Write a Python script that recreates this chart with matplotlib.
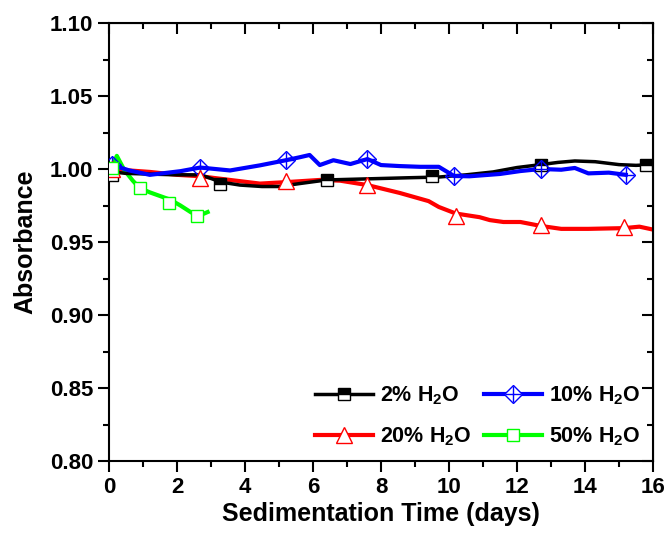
"""
plot.py - Absorbance vs sedimentation time for different water contents.
Output: out.png
"""

import matplotlib
matplotlib.use("Agg")
import matplotlib.pyplot as plt
from matplotlib.ticker import MultipleLocator

plt.rcParams["font.family"] = ["Liberation Sans", "DejaVu Sans"]
plt.rcParams["font.weight"] = "bold"
plt.rcParams["mathtext.fontset"] = "custom"
plt.rcParams["mathtext.rm"] = "Liberation Sans:bold"
plt.rcParams["mathtext.it"] = "Liberation Sans:bold"
plt.rcParams["mathtext.default"] = "rm"

# 2% H2O
t_2 = [0.1, 0.5, 1.2, 2.0, 2.7, 3.3, 3.85, 4.5, 5.0, 5.6, 6.4, 7.2, 8.0, 8.8, 9.7,
       10.5, 11.3, 12.0, 12.7, 13.2, 13.7, 14.3, 15.0, 15.5, 16.0]
a_2 = [0.998, 0.997, 0.9965, 0.996, 0.996, 0.991, 0.989, 0.988, 0.988, 0.990, 0.9925,
       0.993, 0.9935, 0.994, 0.9945, 0.996, 0.998, 1.001, 1.003, 1.0045, 1.0055,
       1.005, 1.003, 1.0025, 1.003]
t_2_mk = [0.1, 3.26, 6.4, 9.5, 12.7, 15.8]
a_2_mk = [0.996, 0.990, 0.9925, 0.995, 1.003, 1.003]

# 10% H2O
t_10 = [0.1, 0.6, 1.2, 2.1, 2.68, 3.56, 4.44, 5.2, 5.6, 5.9, 6.2, 6.6, 7.1, 7.6,
        8.0, 8.55, 9.15, 9.7, 10.15, 10.6, 11.5, 12.1, 12.7, 13.3, 13.7, 14.1,
        14.7, 15.2]
a_10 = [1.0027, 0.999, 0.996, 0.9985, 1.001, 0.999, 1.0025, 1.006, 1.008, 1.0096,
        1.0027, 1.006, 1.0034, 1.0068, 1.0027, 1.002, 1.0015, 1.0015, 0.9952, 0.995,
        0.9966, 0.9986, 1.000, 0.9995, 1.0007, 0.997, 0.9975, 0.996]
t_10_mk = [0.1, 2.68, 5.2, 7.6, 10.15, 12.7, 15.2]
a_10_mk = [1.0027, 1.001, 1.006, 1.0068, 0.9952, 1.000, 0.996]

# 20% H2O
t_20 = [0.1, 0.6, 1.2, 2.0, 2.7, 3.56, 4.44, 5.2, 6.2, 6.8, 7.6, 8.55, 9.4, 9.7,
        10.2, 10.9, 11.2, 11.6, 12.1, 12.7, 13.3, 14.1, 15.15, 15.6, 16.0]
a_20 = [1.0, 0.999, 0.998, 0.996, 0.995, 0.9925, 0.990, 0.991, 0.9925, 0.992,
        0.989, 0.9836, 0.978, 0.974, 0.9695, 0.967, 0.965, 0.9637, 0.9637, 0.961,
        0.959, 0.959, 0.9595, 0.9605, 0.9585]
t_20_mk = [0.1, 2.68, 5.2, 7.6, 10.2, 12.7, 15.15]
a_20_mk = [1.0, 0.994, 0.992, 0.989, 0.968, 0.9617, 0.960]

# 50% H2O
t_50 = [0.0, 0.1, 0.23, 0.45, 0.7, 0.9, 1.2, 1.5, 1.8, 2.1, 2.4, 2.6, 2.75, 2.9]
a_50 = [0.998, 1.002, 1.009, 0.9993, 0.992, 0.987, 0.984, 0.9815, 0.979, 0.975,
        0.9705, 0.968, 0.969, 0.9705]
t_50_mk = [0.1, 0.9, 1.75, 2.6]
a_50_mk = [1.001, 0.987, 0.977, 0.968]


def main():
    fig, ax = plt.subplots(figsize=(6.72, 5.37), dpi=100)
    fig.subplots_adjust(left=109 / 672, right=653 / 672,
                        top=1 - 23 / 537, bottom=1 - 461 / 537)

    ms = 9

    # 2% - duong den, o vuong nua den nua trang
    ax.plot(t_2, a_2, color="black", lw=2.5, zorder=3)
    ax.plot(t_2_mk, a_2_mk, ls="none", marker="s", ms=ms, fillstyle="top",
            markerfacecolor="black", markerfacecoloralt="white",
            markeredgecolor="black", mew=1, zorder=4)

    # 10% - duong xanh, hinh thoi co dau cong
    ax.plot(t_10, a_10, color="#0000ff", lw=3, zorder=3)
    ax.plot(t_10_mk, a_10_mk, ls="none", marker="D", ms=ms,
            markerfacecolor="none", markeredgecolor="#0000ff", mew=1, zorder=4)
    ax.plot(t_10_mk, a_10_mk, ls="none", marker="+", ms=ms + 3,
            markeredgecolor="#0000ff", mew=1, zorder=4)

    # 20% - duong do, tam giac
    ax.plot(t_20, a_20, color="#ff0000", lw=3, zorder=2)
    ax.plot(t_20_mk, a_20_mk, ls="none", marker="^", ms=ms + 2,
            markerfacecolor="white", markeredgecolor="#ff0000", mew=1, zorder=4)

    # 50% - duong xanh la, o vuong rong
    ax.plot(t_50, a_50, color="#00ff00", lw=3, zorder=2)
    ax.plot(t_50_mk, a_50_mk, ls="none", marker="s", ms=ms,
            markerfacecolor="white", markeredgecolor="#00ff00", mew=1, zorder=4)

    # Handle cho legend
    l2 = plt.Line2D([], [], color="black", lw=2.5, marker="s", ms=ms, fillstyle="top",
                    markerfacecolor="black", markerfacecoloralt="white",
                    markeredgecolor="black", mew=1)
    l10 = plt.Line2D([], [], color="#0000ff", lw=3, marker="D", ms=ms,
                     markerfacecolor="white", markeredgecolor="#0000ff", mew=1)
    l10p = plt.Line2D([], [], ls="none", marker="+", ms=ms + 3,
                      markeredgecolor="#0000ff", mew=1)
    l20 = plt.Line2D([], [], color="#ff0000", lw=3, marker="^", ms=ms + 2,
                     markerfacecolor="white", markeredgecolor="#ff0000", mew=1)
    l50 = plt.Line2D([], [], color="#00ff00", lw=3, marker="s", ms=ms,
                     markerfacecolor="white", markeredgecolor="#00ff00", mew=1)

    ax.legend([l2, l20, (l10, l10p), l50],
              ["2% H$_2$O", "20% H$_2$O", "10% H$_2$O", "50% H$_2$O"],
              ncol=2, loc="lower right", frameon=False, fontsize=15.5,
              handlelength=2.7, handletextpad=0.3, columnspacing=0.6,
              labelspacing=0.85, borderaxespad=0.2, numpoints=1)

    ax.set_xlim(0, 16)
    ax.set_ylim(0.80, 1.10)
    ax.xaxis.set_major_locator(MultipleLocator(2))
    ax.xaxis.set_minor_locator(MultipleLocator(1))
    ax.yaxis.set_major_locator(MultipleLocator(0.05))
    ax.yaxis.set_minor_locator(MultipleLocator(0.025))

    for s in ax.spines.values():
        s.set_linewidth(1.5)

    ax.tick_params(which="both", direction="out", width=1.5, labelsize=16)
    ax.tick_params(which="major", length=8)
    ax.tick_params(which="minor", length=4)
    ax.yaxis.set_major_formatter(plt.FormatStrFormatter("%.2f"))

    # Ticks ben trong cho truc tren va phai
    top = ax.secondary_xaxis("top")
    top.set_xticks(range(0, 17, 2))
    top.xaxis.set_minor_locator(MultipleLocator(1))
    top.tick_params(which="both", direction="in", width=1.5, labeltop=False)
    top.tick_params(which="major", length=8)
    top.tick_params(which="minor", length=4)
    right = ax.secondary_yaxis("right")
    right.yaxis.set_major_locator(MultipleLocator(0.05))
    right.yaxis.set_minor_locator(MultipleLocator(0.025))
    right.tick_params(which="both", direction="in", width=1.5, labelright=False)
    right.tick_params(which="major", length=8)
    right.tick_params(which="minor", length=4)

    ax.set_xlabel("Sedimentation Time (days)", fontsize=18, fontweight="bold", labelpad=3)
    ax.set_ylabel("Absorbance", fontsize=18, fontweight="bold", labelpad=9)

    fig.savefig("out.png", dpi=100)
    plt.close(fig)


if __name__ == "__main__":
    main()
